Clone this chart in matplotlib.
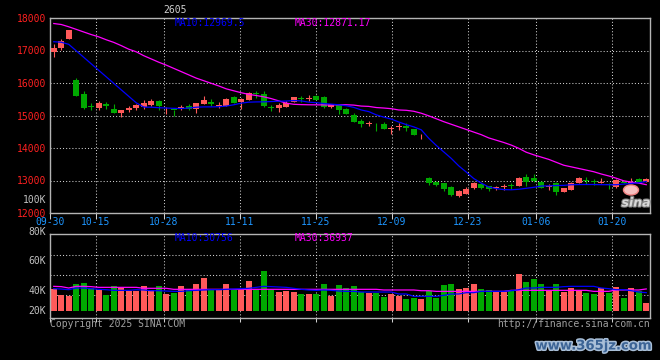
import matplotlib
matplotlib.use("Agg")
import matplotlib.pyplot as plt
import matplotlib.patheffects as pe
from matplotlib.patches import Ellipse
import numpy as np

# ---------------- data ----------------
title = "2605"
date_labels = ["09-30", "10-15", "10-28", "11-11", "11-25", "12-09", "12-23", "01-06", "01-20"]
date_slots = [0, 6, 15, 25, 35, 45, 55, 64, 74]

open_ = [16949, 17082, 17347, 16092, 15664, 15286, 15225, 15358, 15205, 15092,
         15174, 15235, 15256, 15327, 15450, 15154, 15184, 15194, 15296, 15200,
         15368, 15429, 15295, 15286, 15561, 15408, 15490, 15684, 15673, 15255,
         15225, 15266, 15429, 15531, 15520, 15612, 15582, 15266, 15317, 15194,
         15000, 14846, 14733, 14774, 14744, 14600, 14655, 14672, 14570, 14354,
         13083, 12950, 12909, 12796, 12510, 12581, 12776, 12878, 12827, 12755,
         12805, 12856, 12826, 13103, 13062, 12959, 12815, 12928, 12641, 12713,
         12918, 13010, 12969, 12928, 12887, 12785, 12969, 12928, 13051, 12969]
close = [17071, 17296, 17622, 15603, 15235, 15256, 15388, 15296, 15062, 15174,
         15225, 15337, 15388, 15450, 15296, 15184, 15164, 15266, 15194, 15385,
         15490, 15347, 15305, 15520, 15388, 15520, 15694, 15653, 15286, 15225,
         15317, 15388, 15561, 15500, 15551, 15490, 15266, 15347, 15163, 15061,
         14815, 14733, 14754, 14754, 14600, 14621, 14665, 14621, 14385, 14375,
         12909, 12858, 12745, 12540, 12673, 12725, 12919, 12755, 12725, 12786,
         12836, 12826, 13092, 12949, 12980, 12774, 12826, 12641, 12754, 12938,
         13072, 12980, 12949, 12959, 12856, 13010, 12928, 12949, 12949, 13051]
high = [17214, 17367, 17630, 16163, 15756, 15378, 15450, 15419, 15358, 15174,
        15297, 15358, 15470, 15511, 15480, 15256, 15184, 15327, 15358, 15395,
        15612, 15520, 15408, 15541, 15592, 15541, 15714, 15765, 15765, 15337,
        15388, 15459, 15571, 15612, 15622, 15643, 15592, 15368, 15337, 15225,
        15082, 14897, 14846, 14774, 14805, 14672, 14774, 14754, 14590, 14446,
        13093, 12981, 12909, 12817, 12704, 12806, 12940, 12909, 12837, 12837,
        12887, 12908, 13103, 13185, 13215, 12980, 12877, 12959, 12754, 12959,
        13103, 13103, 13051, 13062, 12928, 13041, 12990, 13082, 13062, 13062]
low = [16806, 17010, 17347, 15603, 15194, 15154, 15154, 15215, 15062, 14950,
       15103, 15154, 15194, 15307, 15154, 15041, 15000, 15154, 15184, 15080,
       15368, 15286, 15225, 15286, 15378, 15204, 15490, 15541, 15266, 15133,
       15102, 15266, 15429, 15429, 15459, 15470, 15246, 15246, 15041, 15041,
       14815, 14651, 14672, 14518, 14590, 14426, 14549, 14518, 14385, 14262,
       12848, 12827, 12673, 12520, 12479, 12581, 12735, 12725, 12684, 12694,
       12703, 12744, 12826, 12846, 12949, 12754, 12723, 12569, 12641, 12703,
       12918, 12887, 12867, 12918, 12744, 12765, 12918, 12908, 12949, 12960]
ma10 = [17270, 17255, 17190, 16990, 16790, 16590, 16390, 16190, 15990, 15790,
        15590, 15390, 15260, 15255, 15240, 15230, 15220, 15215, 15230, 15255,
        15265, 15265, 15270, 15290, 15330, 15380, 15410, 15418, 15420, 15430,
        15440, 15445, 15460, 15450, 15410, 15395, 15368, 15350, 15330, 15300,
        15250, 15170, 15120, 15020, 14950, 14890, 14800, 14720, 14650, 14560,
        14300, 14080, 13880, 13680, 13450, 13260, 13060, 12920, 12800, 12750,
        12720, 12715, 12730, 12760, 12790, 12830, 12835, 12845, 12850, 12870,
        12875, 12877, 12877, 12872, 12870, 12870, 12890, 12910, 12930, 12970]
ma30 = [17830, 17800, 17730, 17650, 17570, 17490, 17420, 17330, 17250, 17150,
        17040, 16960, 16840, 16740, 16640, 16550, 16450, 16350, 16250, 16150,
        16070, 15990, 15910, 15820, 15760, 15700, 15650, 15615, 15575, 15520,
        15450, 15380, 15345, 15335, 15330, 15328, 15325, 15325, 15330, 15330,
        15320, 15290, 15280, 15245, 15230, 15210, 15170, 15160, 15130, 15070,
        14990, 14900, 14810, 14730, 14650, 14570, 14490, 14410, 14310, 14240,
        14170, 14090, 13990, 13870, 13790, 13720, 13650, 13560, 13470, 13420,
        13370, 13320, 13270, 13200, 13140, 13070, 12990, 12950, 12920, 12871]
volume = [37400, 27360, 25680, 45230, 46900, 38530, 35730, 27360, 41320, 38530,
          32940, 32940, 41320, 34620, 41320, 28480, 30150, 41320, 35730, 45230,
          55280, 35730, 36290, 45230, 35730, 37400, 50810, 37400, 67560, 36290,
          31830, 34060, 31830, 28480, 28480, 28480, 45230, 25680, 42990, 38530,
          41880, 31830, 30150, 30150, 23450, 28480, 25130, 20100, 21780, 20100,
          32940, 21780, 43550, 45230, 36290, 38530, 45230, 36290, 35180, 32940,
          31270, 32940, 61980, 48580, 53600, 45230, 32940, 45230, 31830, 38530,
          35180, 30150, 28480, 38530, 30150, 40200, 21780, 38530, 32940, 13400]
vol_ma10 = [37400, 36800, 35700, 38500, 38500, 37400, 36300, 35700, 34600, 34600,
            34600, 35700, 35200, 34000, 34000, 33500, 32900, 32900, 34000, 34600,
            35200, 35700, 35700, 36300, 36800, 37400, 38000, 39600, 41300, 40800,
            40200, 39600, 38000, 36300, 35200, 34600, 35200, 34600, 33500, 32900,
            32900, 31800, 31800, 31800, 31800, 31800, 28500, 28500, 24600, 24600,
            24600, 24600, 26200, 28500, 28500, 30700, 30700, 32900, 32900, 32900,
            32900, 34000, 35700, 38500, 38500, 39600, 39600, 39600, 40800, 41300,
            41300, 41300, 41300, 38500, 37400, 35700, 35700, 34000, 31800, 30756]
vol_ma30 = [41300, 40800, 38500, 41300, 41300, 40800, 39600, 39600, 39600, 39600,
            39600, 39600, 38000, 38000, 38000, 38000, 36300, 36300, 36300, 36300,
            36300, 36300, 36300, 36300, 36300, 36300, 36300, 36300, 36300, 36300,
            36300, 36300, 36300, 36300, 36300, 36300, 36300, 36300, 36300, 36300,
            36300, 36300, 36300, 36300, 35200, 35200, 35200, 35200, 35200, 34000,
            34000, 32900, 32900, 32900, 32900, 32900, 32900, 32900, 32900, 32900,
            32900, 34600, 34600, 34600, 34600, 34600, 34600, 34600, 34600, 34600,
            34600, 34600, 32900, 32900, 32900, 35200, 35200, 35200, 35200, 36937]

price_ticks = [12000, 13000, 14000, 15000, 16000, 17000, 18000]
vol_labels = ["100K", "80K", "60K", "40K", "20K"]
legend_price = ["MA10:12969.5", "MA30:12871.17"]
legend_vol = ["MA10:30756", "MA30:36937"]
footer_left = "Copyright 2025 SINA.COM"
footer_right = "http://finance.sina.com.cn"
watermark = "www.365jz.com"

# ---------------- styling / layout ----------------
W, H = 660, 360
UP, DOWN = "#ff5a5a", "#00a800"
GRID = "#cfcfcf"
SPINE = "#b4b4b4"
MONO = "DejaVu Sans Mono"
FS = 7

def rect(l, t, r, b):
    return [l / W, 1 - b / H, (r - l) / W, (b - t) / H]

def fx(x):
    return x / W

def fy(y):
    return 1 - y / H

n = len(close)
x = np.arange(n) + 0.5
o, c, h, l = map(np.array, (open_, close, high, low))
up = c >= o
cols = np.where(up, UP, DOWN)
grid_pos = np.array(date_slots) * n / (n - 1)   # Sina's grid spacing

fig = plt.figure(figsize=(W / 100, H / 100), dpi=100, facecolor="black")
ax = fig.add_axes(rect(50, 18, 650, 213), facecolor="black")
axv = fig.add_axes(rect(50, 234, 650, 318), facecolor="black")

for a in (ax, axv):
    a.set_xlim(0, n)
    for s in a.spines.values():
        s.set_color(SPINE)
        s.set_linewidth(1.0)
    a.set_xticks(grid_pos)
    a.grid(axis="both", color=GRID, linestyle=(0, (1, 2)), linewidth=0.75)
    a.set_axisbelow(True)

# price panel
ax.set_ylim(12000, 18000)
ax.set_yticks(price_ticks)
ax.set_yticklabels([str(v) for v in price_ticks], color="#ff2020",
                   fontsize=FS, family=MONO)
ax.tick_params(axis="y", length=0, pad=3)
ax.tick_params(axis="x", length=4, color=GRID, width=0.75, pad=0)
ax.set_xticklabels([])
for lab, gp in zip(date_labels, grid_pos):
    ax.text(gp, -0.045, lab, transform=ax.get_xaxis_transform(), color="#1e96ff",
            ha="center", va="center", fontsize=FS, family=MONO)

body = np.maximum(np.abs(c - o), 22)
ax.vlines(x, l, h, colors=cols, linewidth=0.8, zorder=2)
ax.bar(x, body, bottom=np.minimum(o, c), width=0.8, color=cols, zorder=3,
       linewidth=0)
ax.plot(x, ma30, color="#ff00ff", linewidth=0.9, zorder=4)
ax.plot(x, ma10, color="#0000ff", linewidth=0.9, zorder=5)

# volume panel
vscale = 1675.0
axv.set_ylim(-7 * vscale, 77 * vscale)
axv.set_yticks([16 * vscale, 36 * vscale, 56 * vscale])
axv.tick_params(axis="y", length=0, labelleft=False)
axv.tick_params(axis="x", length=3, color=GRID, width=0.75, labelbottom=False)
axv.bar(x, volume, width=0.8, color=cols, linewidth=0, zorder=2)
axv.plot(x, vol_ma30, color="#ff00ff", linewidth=0.9, zorder=4)
axv.plot(x, vol_ma10, color="#0000ff", linewidth=0.9, zorder=5)

# texts
txt = dict(family=MONO, fontsize=FS)
fig.text(fx(175), fy(10), title, color="#d0d0d0", ha="center", va="center", **txt)
fig.text(fx(175), fy(23), legend_price[0], color="#0000ff", ha="left", va="center", **txt)
fig.text(fx(295), fy(23), legend_price[1], color="#ff00ff", ha="left", va="center", **txt)
fig.text(fx(175), fy(238), legend_vol[0], color="#0000ff", ha="left", va="center", **txt)
fig.text(fx(295), fy(238), legend_vol[1], color="#ff00ff", ha="left", va="center", **txt)
for lab, yy in zip(vol_labels, [200, 232, 261, 291, 311]):
    fig.text(fx(46), fy(yy), lab, color="#c0c0c0", ha="right", va="center", **txt)
fig.text(fx(50), fy(324), footer_left, color="#a0a0a0", ha="left", va="center", **txt)
fig.text(fx(650), fy(324), footer_right, color="#a0a0a0", ha="right", va="center", **txt)

# sina logo watermark
fig.patches.append(Ellipse((fx(631), fy(190)), 15 / W, 10 / H,
                           transform=fig.transFigure, facecolor="#f6c0c0",
                           edgecolor="#f08080", linewidth=1.0, zorder=10))
fig.text(fx(636), fy(203), "sina", color="#d8d8d8", ha="center", va="center",
         fontsize=9, fontweight="bold", style="italic", family="DejaVu Sans",
         path_effects=[pe.withStroke(linewidth=1.5, foreground="#808080")])

# site watermark
fig.text(fx(594), fy(346), watermark, color="#3c6496", ha="center", va="center",
         fontsize=9.5, fontweight="bold", family="DejaVu Sans",
         path_effects=[pe.withStroke(linewidth=2.2, foreground="#a9bfd8")])

fig.savefig("out.png", dpi=100, facecolor="black")
